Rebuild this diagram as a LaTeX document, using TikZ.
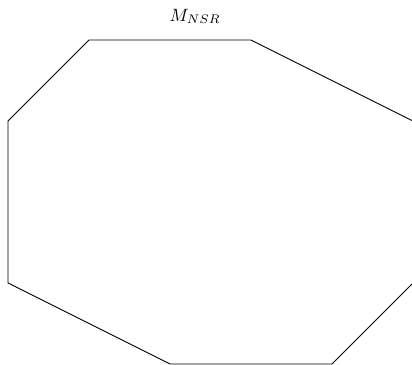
\documentclass[tikz,border=0pt]{standalone}
\usepackage{tikz}
\usetikzlibrary{positioning}
\usepackage{amsmath, amssymb}

\begin{document}
\begin{tikzpicture}[
        x=1.6cm, y=1.6cm,
        edge/.style={draw=black, line width=0.5pt, line join=miter},
        setlabel/.style={inner sep=2pt, font=\normalsize}
    ]

    % Bounding box (right side is cut off as in the picture)
    \useasboundingbox (-0.099,-0.012) rectangle (4.988,4.494);

    % The corners
    \coordinate (w1) at (0,3);
    \coordinate (n1) at (1,4);
    \coordinate (n2) at (3,4);
    \coordinate (e1) at (5,3);
    \coordinate (e2) at (5,1);
    \coordinate (s2) at (4,0);
    \coordinate (s1) at (2,0);
    \coordinate (w2) at (0,1);

    % The region
    \draw [edge] (w1) -- (n1) -- (n2) -- (e1) -- (e2) -- (s2) -- (s1) -- (w2) -- cycle;

    % The label
    \node (nsr) [setlabel] at (2.31,4.29) {$M_{NSR}$};

\end{tikzpicture}
\end{document}
